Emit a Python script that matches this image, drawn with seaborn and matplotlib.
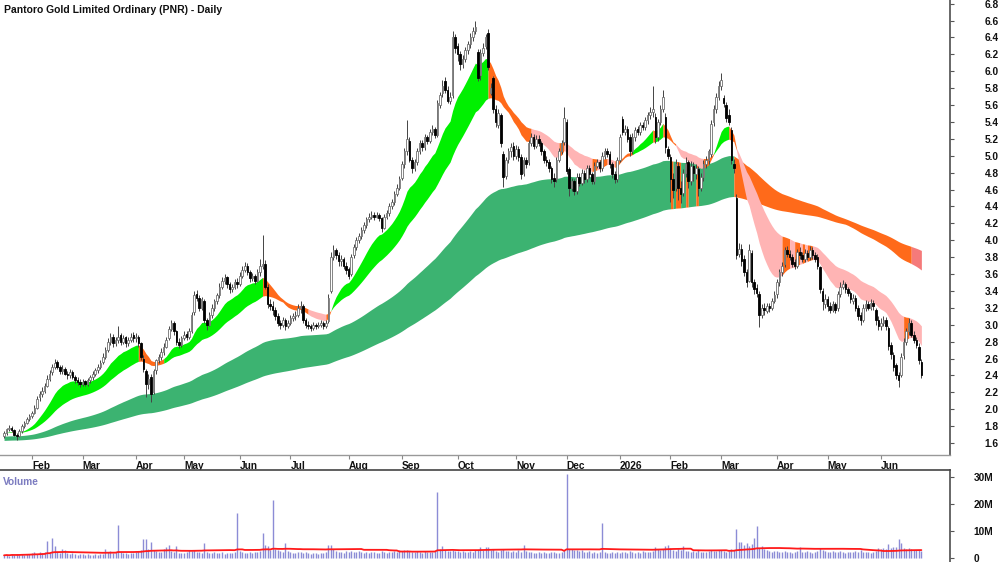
import numpy as np
import pandas as pd
import matplotlib
matplotlib.use("Agg")
import matplotlib.pyplot as plt
import matplotlib.transforms as mtransforms
import seaborn as sns

# ---------------- data ----------------
title = "Pantoro Gold Limited Ordinary (PNR) - Daily"
first_day = "2025-01-16"
asx_holidays = ["2025-01-27", "2025-04-18", "2025-04-21", "2025-04-25", "2025-06-09",
                "2025-12-25", "2025-12-26", "2026-01-01", "2026-01-26", "2026-04-03",
                "2026-04-06", "2026-06-08"]

# one line per month: Jan-25 ... Jun-26
close_px = [
    1.72, 1.76, 1.78, 1.75, 1.70, 1.68, 1.74, 1.80, 1.84, 1.88, 1.92,
    1.95, 2.02, 2.12, 2.18, 2.22, 2.28, 2.36, 2.42, 2.50, 2.55, 2.50, 2.45, 2.48, 2.42, 2.40, 2.44, 2.38, 2.34, 2.32, 2.30,
    2.32, 2.30, 2.34, 2.38, 2.42, 2.46, 2.50, 2.55, 2.62, 2.70, 2.80, 2.85, 2.78, 2.82, 2.86, 2.80, 2.84, 2.78, 2.82, 2.86, 2.84,
    2.86, 2.78, 2.62, 2.48, 2.30, 2.36, 2.18, 2.45, 2.58, 2.62, 2.68, 2.74, 2.82, 2.95, 3.02, 2.92, 2.80, 2.76, 2.84,
    2.88, 2.86, 2.92, 3.12, 3.35, 3.32, 3.20, 3.30, 3.05, 3.00, 3.12, 3.20, 3.28, 3.35, 3.45, 3.52, 3.55, 3.48, 3.42, 3.45, 3.50, 3.48,
    3.58, 3.65, 3.70, 3.62, 3.55, 3.58, 3.52, 3.62, 3.70, 3.72, 3.45, 3.25, 3.22, 3.18, 3.10, 3.02, 3.00, 3.05, 2.98, 3.02,
    3.08, 3.10, 3.12, 3.20, 3.22, 3.05, 3.00, 2.98, 2.96, 3.00, 2.98, 3.00, 3.02, 2.98, 3.02, 3.32, 3.80, 3.88, 3.82, 3.75, 3.78, 3.70, 3.65,
    3.58, 3.80, 3.92, 4.00, 4.05, 4.12, 4.18, 4.25, 4.28, 4.30, 4.28, 4.30, 4.26, 4.15, 4.28, 4.32, 4.40, 4.45, 4.55, 4.62, 4.72,
    4.90, 5.05, 5.20, 4.95, 4.85, 4.92, 5.05, 5.15, 5.10, 5.22, 5.18, 5.28, 5.32, 5.25, 5.62, 5.72, 5.82, 5.78, 5.65, 5.70, 6.40, 6.28,
    6.20, 6.08, 6.15, 6.25, 6.32, 6.40, 6.48, 6.52, 5.92, 6.22, 6.28, 6.40, 6.05, 5.80, 5.55, 5.40, 5.50, 5.15, 4.75, 4.95, 5.05, 5.10, 5.00,
    5.08, 4.98, 4.78, 4.95, 4.90, 5.15, 5.22, 5.12, 5.20, 5.15, 5.05, 4.95, 4.92, 4.85, 4.72, 4.70, 4.95, 5.05, 5.15, 5.45,
    4.82, 4.62, 4.70, 4.58, 4.75, 4.68, 4.80, 4.72, 4.85, 4.78, 4.70, 4.88, 4.92, 4.85, 5.00, 5.05, 5.02, 4.90, 4.78, 4.72, 4.95,
    5.22, 5.28, 5.32, 5.20, 5.05, 5.22, 5.30, 5.28, 5.36, 5.34, 5.42, 5.48, 5.52, 5.55, 5.22, 5.40, 5.55, 5.70, 5.10, 5.00,
    4.72, 4.60, 4.90, 4.62, 4.55, 4.80, 4.90, 4.70, 4.88, 4.80, 4.85, 4.62, 4.75, 4.90, 4.95, 5.05, 5.38, 5.55, 5.70, 5.82,
    5.90, 5.62, 5.45, 5.40, 4.95, 4.85, 3.82, 3.90, 3.75, 3.62, 3.50, 3.88, 3.50, 3.42, 3.38, 3.12, 3.20, 3.18, 3.22, 3.20, 3.28, 3.35,
    3.50, 3.62, 3.70, 3.88, 3.84, 3.80, 3.72, 3.70, 3.86, 3.82, 3.78, 3.85, 3.80, 3.88, 3.82, 3.78, 3.70, 3.42, 3.28, 3.30,
    3.22, 3.18, 3.24, 3.18, 3.36, 3.45, 3.48, 3.42, 3.38, 3.30, 3.32, 3.20, 3.10, 3.05, 3.20, 3.24, 3.20, 3.26, 3.22, 3.05, 2.98,
    3.02, 3.05, 2.98, 2.75, 2.65, 2.50, 2.40, 2.35, 2.62, 2.80, 2.92, 3.02, 2.88, 2.82, 2.76, 2.58, 2.40,
]
open_px = [
    1.68, 1.72, 1.76, 1.78, 1.75, 1.70, 1.68, 1.74, 1.80, 1.84, 1.88,
    1.92, 1.96, 2.02, 2.14, 2.18, 2.22, 2.28, 2.36, 2.44, 2.50, 2.56, 2.50, 2.45, 2.48, 2.42, 2.40, 2.44, 2.38, 2.34, 2.32,
    2.30, 2.33, 2.30, 2.34, 2.38, 2.42, 2.46, 2.50, 2.56, 2.62, 2.70, 2.80, 2.86, 2.78, 2.82, 2.88, 2.80, 2.85, 2.78, 2.82, 2.88,
    2.84, 2.86, 2.78, 2.60, 2.45, 2.30, 2.38, 2.20, 2.46, 2.58, 2.62, 2.68, 2.74, 2.84, 2.95, 3.02, 2.92, 2.80, 2.76,
    2.84, 2.89, 2.86, 2.93, 3.15, 3.36, 3.32, 3.20, 3.28, 3.05, 3.00, 3.12, 3.20, 3.28, 3.35, 3.45, 3.52, 3.56, 3.48, 3.42, 3.45, 3.51,
    3.48, 3.58, 3.65, 3.70, 3.62, 3.55, 3.58, 3.52, 3.62, 3.70, 3.72, 3.45, 3.25, 3.22, 3.18, 3.10, 3.02, 3.00, 3.05, 2.98,
    3.02, 3.08, 3.10, 3.12, 3.20, 3.22, 3.05, 3.00, 2.98, 2.96, 3.00, 2.98, 3.00, 3.02, 2.98, 3.04, 3.40, 3.80, 3.88, 3.82, 3.75, 3.78, 3.70,
    3.66, 3.60, 3.82, 3.92, 4.00, 4.05, 4.12, 4.18, 4.25, 4.28, 4.30, 4.28, 4.30, 4.26, 4.15, 4.28, 4.32, 4.40, 4.45, 4.55, 4.62,
    4.74, 4.90, 5.05, 5.18, 4.95, 4.85, 4.92, 5.05, 5.15, 5.10, 5.22, 5.18, 5.28, 5.32, 5.25, 5.60, 5.74, 5.88, 5.78, 5.65, 5.72, 6.40,
    6.30, 6.20, 6.08, 6.15, 6.25, 6.32, 6.40, 6.48, 6.23, 5.95, 6.22, 6.30, 6.45, 5.74, 5.92, 5.55, 5.36, 5.48, 5.02, 4.76, 4.96, 5.05, 5.12,
    5.00, 5.08, 4.98, 4.80, 4.95, 4.92, 5.15, 5.22, 5.12, 5.20, 5.15, 5.05, 4.95, 4.92, 4.85, 4.74, 4.72, 4.95, 5.05, 5.16,
    5.40, 4.84, 4.62, 4.70, 4.58, 4.75, 4.68, 4.80, 4.72, 4.85, 4.78, 4.70, 4.88, 4.92, 4.85, 5.00, 5.05, 5.02, 4.90, 4.78, 4.72,
    4.95, 5.44, 5.28, 5.32, 5.22, 5.05, 5.22, 5.32, 5.28, 5.36, 5.34, 5.42, 5.48, 5.52, 5.46, 5.22, 5.40, 5.55, 5.46, 5.08,
    4.98, 4.72, 4.62, 4.88, 4.62, 4.56, 4.80, 4.92, 4.70, 4.88, 4.78, 4.84, 4.62, 4.75, 4.90, 4.95, 5.02, 5.40, 5.55, 5.70,
    5.82, 5.68, 5.60, 5.48, 5.30, 4.90, 4.50, 3.84, 3.90, 3.78, 3.62, 3.52, 3.85, 3.50, 3.44, 3.36, 3.12, 3.20, 3.16, 3.22, 3.20, 3.28,
    3.36, 3.50, 3.62, 3.72, 3.88, 3.84, 3.80, 3.74, 3.70, 3.86, 3.82, 3.78, 3.85, 3.80, 3.88, 3.82, 3.80, 3.68, 3.40, 3.24,
    3.30, 3.22, 3.18, 3.24, 3.20, 3.36, 3.45, 3.48, 3.42, 3.38, 3.28, 3.32, 3.20, 3.12, 3.06, 3.20, 3.24, 3.20, 3.26, 3.18, 3.05,
    2.98, 3.02, 3.06, 2.96, 2.76, 2.64, 2.52, 2.40, 2.40, 2.64, 2.80, 2.92, 3.02, 2.88, 2.82, 2.74, 2.56,
]
high_px = [
    1.74, 1.78, 1.81, 1.80, 1.77, 1.72, 1.76, 1.82, 1.86, 1.91, 1.94,
    1.98, 2.05, 2.16, 2.22, 2.26, 2.31, 2.40, 2.46, 2.54, 2.60, 2.58, 2.52, 2.52, 2.50, 2.45, 2.48, 2.46, 2.40, 2.38, 2.36,
    2.36, 2.35, 2.37, 2.41, 2.45, 2.49, 2.54, 2.58, 2.66, 2.74, 2.84, 2.90, 2.89, 2.86, 2.98, 2.90, 2.88, 2.87, 2.85, 2.90, 2.91,
    2.90, 2.88, 2.80, 2.64, 2.48, 2.42, 2.42, 2.48, 2.60, 2.65, 2.72, 2.78, 2.86, 2.98, 3.06, 3.04, 2.94, 2.84, 2.87,
    2.92, 2.92, 2.96, 3.15, 3.40, 3.41, 3.35, 3.33, 3.30, 3.08, 3.15, 3.24, 3.31, 3.38, 3.49, 3.56, 3.60, 3.58, 3.50, 3.48, 3.54, 3.55,
    3.62, 3.69, 3.74, 3.73, 3.65, 3.61, 3.60, 3.66, 3.78, 4.06, 3.76, 3.48, 3.30, 3.28, 3.21, 3.14, 3.06, 3.09, 3.08, 3.05,
    3.12, 3.14, 3.16, 3.24, 3.28, 3.24, 3.08, 3.04, 3.01, 3.03, 3.02, 3.03, 3.05, 3.04, 3.05, 3.36, 3.86, 3.94, 3.91, 3.86, 3.82, 3.80, 3.74,
    3.68, 3.84, 3.96, 4.04, 4.09, 4.16, 4.22, 4.28, 4.32, 4.34, 4.33, 4.33, 4.32, 4.28, 4.31, 4.36, 4.44, 4.49, 4.58, 4.66, 4.76,
    4.94, 5.09, 5.42, 5.22, 4.99, 4.96, 5.09, 5.19, 5.19, 5.26, 5.25, 5.32, 5.36, 5.34, 5.66, 5.76, 5.90, 5.93, 5.82, 5.76, 6.48, 6.44,
    6.34, 6.24, 6.19, 6.29, 6.36, 6.45, 6.52, 6.60, 6.26, 6.26, 6.33, 6.44, 6.50, 5.86, 5.94, 5.60, 5.55, 5.50, 5.05, 4.99, 5.09, 5.15, 5.16,
    5.13, 5.12, 5.02, 4.99, 4.99, 5.19, 5.27, 5.26, 5.24, 5.24, 5.18, 5.08, 5.00, 4.96, 4.88, 4.79, 4.99, 5.09, 5.19, 5.58,
    5.44, 4.87, 4.74, 4.73, 4.79, 4.79, 4.84, 4.83, 4.89, 4.89, 4.81, 4.92, 4.96, 4.95, 5.04, 5.09, 5.09, 5.05, 4.93, 4.82, 4.99,
    5.26, 5.47, 5.36, 5.35, 5.26, 5.27, 5.34, 5.35, 5.40, 5.40, 5.46, 5.52, 5.58, 5.82, 5.50, 5.44, 5.60, 5.78, 5.50, 5.12,
    5.02, 4.80, 4.96, 4.92, 4.70, 4.84, 4.98, 4.95, 4.94, 4.93, 4.90, 4.88, 4.80, 4.95, 5.00, 5.08, 5.42, 5.60, 5.74, 5.88,
    5.98, 5.72, 5.64, 5.55, 5.34, 4.96, 4.55, 3.97, 3.95, 3.82, 3.66, 3.95, 3.88, 3.54, 3.48, 3.40, 3.24, 3.26, 3.26, 3.26, 3.32, 3.40,
    3.54, 3.66, 3.74, 3.92, 3.93, 3.88, 3.84, 3.78, 3.90, 3.92, 3.86, 3.90, 3.89, 3.93, 3.92, 3.86, 3.84, 3.70, 3.44, 3.36,
    3.34, 3.27, 3.28, 3.27, 3.40, 3.50, 3.53, 3.50, 3.45, 3.40, 3.36, 3.35, 3.23, 3.15, 3.24, 3.29, 3.28, 3.30, 3.29, 3.20, 3.10,
    3.08, 3.10, 3.09, 2.98, 2.80, 2.68, 2.55, 2.44, 2.66, 2.84, 2.96, 3.08, 3.05, 2.92, 2.86, 2.78, 2.60,
]
low_px = [
    1.66, 1.70, 1.74, 1.73, 1.68, 1.64, 1.67, 1.72, 1.78, 1.82, 1.86,
    1.90, 1.94, 2.00, 2.10, 2.15, 2.19, 2.26, 2.33, 2.40, 2.47, 2.48, 2.42, 2.42, 2.40, 2.36, 2.37, 2.36, 2.31, 2.29, 2.26,
    2.27, 2.27, 2.28, 2.31, 2.35, 2.39, 2.43, 2.47, 2.53, 2.60, 2.68, 2.76, 2.74, 2.75, 2.78, 2.76, 2.77, 2.74, 2.75, 2.79, 2.80,
    2.80, 2.74, 2.58, 2.44, 2.14, 2.24, 2.08, 2.18, 2.42, 2.55, 2.58, 2.64, 2.72, 2.82, 2.92, 2.88, 2.76, 2.72, 2.74,
    2.82, 2.82, 2.83, 2.90, 3.12, 3.28, 3.16, 3.17, 3.02, 2.94, 2.98, 3.08, 3.16, 3.24, 3.32, 3.42, 3.48, 3.44, 3.38, 3.39, 3.42, 3.44,
    3.46, 3.55, 3.62, 3.59, 3.51, 3.52, 3.48, 3.50, 3.58, 3.66, 3.42, 3.20, 3.17, 3.12, 3.05, 2.98, 2.95, 2.97, 2.94, 2.96,
    3.00, 3.04, 3.06, 3.09, 3.14, 3.02, 2.96, 2.95, 2.93, 2.94, 2.95, 2.96, 2.97, 2.95, 2.96, 3.02, 3.38, 3.76, 3.78, 3.70, 3.70, 3.66, 3.60,
    3.54, 3.58, 3.79, 3.89, 3.97, 4.02, 4.09, 4.15, 4.22, 4.25, 4.24, 4.26, 4.23, 4.10, 4.13, 4.25, 4.29, 4.37, 4.42, 4.52, 4.59,
    4.71, 4.86, 5.01, 4.92, 4.80, 4.82, 4.89, 5.02, 5.06, 5.07, 5.14, 5.15, 5.24, 5.21, 5.22, 5.56, 5.70, 5.74, 5.62, 5.61, 5.68, 6.22,
    6.12, 6.02, 6.04, 6.11, 6.20, 6.28, 6.36, 6.44, 5.88, 5.90, 6.18, 6.26, 6.02, 5.72, 5.50, 5.34, 5.33, 5.10, 4.63, 4.72, 4.91, 4.99, 4.95,
    4.96, 4.94, 4.72, 4.76, 4.86, 4.89, 5.11, 5.08, 5.09, 5.11, 5.01, 4.91, 4.88, 4.81, 4.68, 4.63, 4.69, 4.92, 5.02, 5.13,
    4.78, 4.52, 4.58, 4.54, 4.55, 4.64, 4.65, 4.68, 4.69, 4.74, 4.66, 4.67, 4.85, 4.81, 4.82, 4.96, 4.98, 4.86, 4.74, 4.68, 4.69,
    4.93, 5.24, 5.25, 5.16, 5.00, 5.02, 5.18, 5.24, 5.25, 5.30, 5.30, 5.38, 5.44, 5.46, 5.15, 5.18, 5.36, 5.52, 5.03, 4.96,
    4.45, 4.50, 4.58, 4.48, 4.44, 4.52, 4.75, 4.62, 4.65, 4.70, 4.72, 4.52, 4.58, 4.70, 4.85, 4.90, 4.98, 5.35, 5.50, 5.66,
    5.78, 5.58, 5.40, 5.36, 4.90, 4.80, 3.78, 3.80, 3.70, 3.58, 3.45, 3.50, 3.45, 3.36, 3.33, 2.97, 3.08, 3.12, 3.14, 3.15, 3.18, 3.26,
    3.32, 3.46, 3.58, 3.68, 3.80, 3.76, 3.68, 3.66, 3.67, 3.78, 3.74, 3.74, 3.76, 3.77, 3.78, 3.74, 3.66, 3.38, 3.18, 3.20,
    3.16, 3.14, 3.15, 3.14, 3.16, 3.33, 3.42, 3.38, 3.34, 3.26, 3.25, 3.16, 3.06, 3.00, 3.03, 3.16, 3.17, 3.17, 3.18, 3.00, 2.94,
    2.94, 2.98, 2.94, 2.70, 2.60, 2.45, 2.36, 2.26, 2.38, 2.60, 2.76, 2.88, 2.85, 2.78, 2.72, 2.54, 2.37,
]
volume_m = [
    1.0, 1.2, 0.9, 1.4, 1.1, 1.3, 1.0, 1.5, 1.2, 1.6, 1.4,
    1.8, 2.1, 1.6, 2.4, 1.9, 2.2, 6.3, 2.0, 7.3, 4.4, 2.3, 1.8, 3.5, 3.0, 1.7, 1.5, 1.9, 1.4, 1.2, 1.6,
    1.3, 1.1, 1.5, 1.2, 1.0, 1.4, 1.1, 1.6, 1.3, 3.3, 2.2, 2.6, 1.9, 2.4, 12.4, 2.1, 1.7, 1.9, 1.5, 2.0, 1.8,
    2.2, 2.6, 3.1, 7.2, 7.2, 3.4, 5.9, 2.8, 2.5, 2.1, 2.4, 3.3, 4.0, 5.0, 2.6, 2.2, 4.3, 2.0, 1.8,
    1.9, 2.3, 2.8, 2.5, 3.0, 2.4, 2.2, 1.9, 5.6, 2.4, 1.8, 2.0, 2.2, 1.7, 1.9, 2.1, 1.6, 1.8, 2.0, 1.7, 2.2, 16.5,
    2.6, 2.3, 2.0, 1.8, 2.2, 1.9, 2.4, 2.1, 2.7, 9.2, 4.7, 4.5, 3.0, 21.5, 3.4, 2.8, 2.5, 2.2, 5.4, 2.6,
    2.3, 2.0, 1.8, 2.4, 2.1, 1.9, 2.2, 1.7, 1.6, 2.0, 1.8, 1.5, 1.9, 1.7, 2.1, 5.0, 5.0, 3.2, 2.6, 2.4, 2.2, 2.0, 2.5,
    2.3, 2.7, 2.4, 2.1, 2.6, 2.2, 2.0, 2.4, 1.9, 2.1, 2.3, 1.8, 2.0, 2.5, 2.2, 1.9, 2.4, 2.1, 2.6, 2.3, 2.8,
    2.6, 2.9, 3.1, 2.7, 2.4, 2.2, 2.6, 2.3, 2.0, 2.5, 2.2, 2.4, 2.1, 2.7, 24.6, 3.2, 4.4, 2.8, 2.5, 2.6, 3.0, 2.7,
    2.5, 2.3, 2.6, 2.2, 2.4, 2.7, 2.3, 2.9, 3.1, 3.9, 3.0, 3.9, 3.9, 2.8, 3.2, 2.6, 2.4, 2.9, 3.3, 2.7, 2.5, 2.3, 2.6,
    2.2, 2.8, 2.4, 5.0, 2.5, 2.1, 2.3, 2.0, 1.8, 2.2, 1.9, 2.1, 1.7, 2.0, 2.3, 2.1, 1.8, 2.0, 2.4, 3.0,
    31.3, 3.2, 3.4, 2.8, 3.0, 2.6, 2.9, 2.4, 2.2, 2.5, 2.0, 2.3, 1.9, 2.1, 13.0, 2.4, 2.0, 1.8, 2.2, 1.9, 2.3,
    2.0, 2.4, 2.1, 1.8, 2.6, 2.2, 1.9, 2.3, 2.0, 2.5, 2.2, 2.1, 2.4, 2.7, 4.2, 3.5, 2.8, 3.4, 4.6, 5.0,
    3.8, 2.9, 2.6, 3.4, 2.8, 4.5, 2.5, 2.7, 2.3, 2.6, 2.2, 2.8, 2.4, 2.1, 2.3, 2.6, 2.9, 2.5, 2.7, 3.0,
    2.8, 2.5, 2.3, 2.6, 3.4, 2.9, 10.8, 6.0, 6.0, 5.0, 5.5, 4.6, 5.2, 7.5, 12.0, 3.6, 4.5, 3.2, 2.8, 2.6, 2.4, 2.7,
    2.5, 2.2, 2.4, 2.7, 2.1, 2.3, 2.0, 2.2, 2.5, 4.2, 2.4, 2.1, 2.6, 2.3, 2.0, 2.2, 2.5, 3.8, 3.0, 2.6,
    2.4, 2.2, 2.6, 2.3, 2.1, 2.5, 2.2, 2.0, 2.4, 2.1, 2.3, 2.6, 2.2, 2.8, 2.4, 2.1, 2.3, 2.0, 2.2, 2.6, 3.6,
    3.4, 3.8, 3.2, 5.2, 3.6, 4.1, 3.9, 7.0, 5.5, 3.8, 3.4, 3.6, 3.2, 3.0, 2.9, 2.8, 2.6,
]

# moving-average bands (EMA periods) and their starting levels at the left edge
short_spans = [15, 18, 22, 26, 30, 36]
long_spans = [110, 130, 150, 170, 190, 215]
short_start = 1.72
long_start = [1.68, 1.67, 1.66, 1.65, 1.64, 1.63]
volume_ma_window = 50

# ---------------- prep ----------------
n = min(len(close_px), len(open_px), len(high_px), len(low_px), len(volume_m))
o = np.array(open_px[:n])
h = np.array(high_px[:n])
l = np.array(low_px[:n])
c = np.array(close_px[:n])
vol = np.array(volume_m[:n])
x = np.arange(n)

bday = pd.offsets.CustomBusinessDay(holidays=asx_holidays)
dates = pd.date_range(first_day, periods=n, freq=bday)


def ema(values, span, seed):
    s = pd.Series(np.concatenate([[seed], values]))
    return s.ewm(span=span, adjust=False).mean().to_numpy()[1:]


def band(spans, seeds):
    lines = np.vstack([ema(c, sp, sd) for sp, sd in zip(spans, seeds)])
    bull = np.all(lines[:-1] > lines[1:], axis=0)
    bear = np.all(lines[:-1] < lines[1:], axis=0)
    mid = lines.mean(axis=0)
    slope = np.diff(mid, prepend=mid[0])
    state = np.where(bull & (slope >= 0), 1, np.where(bear & (slope <= 0), -1, 0))
    return lines.min(axis=0), lines.max(axis=0), state


def fill_band(ax, lo, hi, state, colours, z):
    start = 0
    for i in range(1, n + 1):
        if i == n or state[i] != state[start]:
            s = max(start - 1, 0)
            ax.fill_between(x[s:i], lo[s:i], hi[s:i], color=colours[state[start]],
                            lw=0, zorder=z)
            start = i


short_lo, short_hi, short_state = band(short_spans, [short_start] * len(short_spans))
long_lo, long_hi, long_state = band(long_spans, long_start)
vol_ma = pd.Series(vol).rolling(volume_ma_window, min_periods=1).mean()

# ---------------- plot ----------------
sns.set_theme(style="white")
plt.rcParams["font.family"] = ["Liberation Sans", "DejaVu Sans"]
plt.rcParams["font.weight"] = "bold"

fig = plt.figure(figsize=(10, 5.62), dpi=100)
ax = fig.add_axes([0, 1 - 455 / 562, 0.95, 455 / 562])
axv = fig.add_axes([0, 0, 0.95, 92 / 562])

orange = "#ff6a1a"
fill_band(ax, long_lo, long_hi, long_state, {1: "#3cb371", 0: orange, -1: "#f57a7a"}, 1)
fill_band(ax, short_lo, short_hi, short_state, {1: "#00f000", 0: orange, -1: "#ffb4b4"}, 2)

up = c >= o
body = np.maximum(np.abs(c - o), 0.006)
ax.vlines(x, l, h, color="#444444", lw=0.7, zorder=3)
ax.bar(x[up], body[up], bottom=o[up], width=0.62, color="white",
       edgecolor="#707070", lw=0.6, zorder=4)
ax.bar(x[~up], body[~up], bottom=c[~up], width=0.62, color="black",
       edgecolor="black", lw=0.6, zorder=4)

ax.set_xlim(-1.6, 373.3)
ax.set_ylim(1.458, 6.843)
ax.yaxis.tick_right()
ax.set_yticks(np.round(np.arange(1.6, 6.81, 0.2), 1))
ax.set_yticklabels([f"{v:.1f}" for v in np.arange(1.6, 6.81, 0.2)])

month_start = [i for i in range(1, n) if dates[i].month != dates[i - 1].month]
month_lab = [str(dates[i].year) if dates[i].month == 1 else dates[i].strftime("%b")
             for i in month_start]
ax.set_xticks(month_start)
ax.set_xticklabels(month_lab, ha="left")
shift = mtransforms.ScaledTranslation(2 / 100, 0, fig.dpi_scale_trans)
for lab in ax.get_xticklabels():
    lab.set_transform(lab.get_transform() + shift)

ax.tick_params(axis="y", right=True, length=3, width=0.8, color="#555555",
               pad=22, labelsize=7.3, labelcolor="#111111")
ax.tick_params(axis="x", bottom=True, length=3, width=0.8, color="#888888",
               pad=1, labelsize=7.3, labelcolor="#111111")
for side in ["left", "top"]:
    ax.spines[side].set_visible(False)
ax.spines["right"].set_color("#555555")
ax.spines["bottom"].set_color("#999999")
ax.spines["bottom"].set_linewidth(1.0)
ax.text(0.004, 0.988, title, transform=ax.transAxes, ha="left", va="top",
        fontsize=7.5, fontweight="bold", color="#111111")

# volume panel
axv.vlines(x, 0, vol, color="#8c8cd6", lw=1.0, zorder=2)
sns.lineplot(x=x, y=vol_ma, ax=axv, color="#ff1a1a", lw=1.3, zorder=3)
axv.set_xlim(ax.get_xlim())
axv.set_ylim(-1.48, 32.6)
axv.yaxis.tick_right()
axv.set_yticks([0, 10, 20, 30])
axv.set_yticklabels(["0", "10M", "20M", "30M"])
axv.set_xticks([])
axv.tick_params(axis="y", right=True, length=3, width=0.8, color="#555555",
                pad=14, labelsize=7.3, labelcolor="#111111")
for side in ["left", "bottom"]:
    axv.spines[side].set_visible(False)
axv.spines["right"].set_color("#555555")
axv.spines["top"].set_color("#444444")
axv.spines["top"].set_linewidth(1.2)
axv.set_ylabel("")
axv.text(0.003, 0.92, "Volume", transform=axv.transAxes, ha="left", va="top",
         fontsize=7.3, fontweight="bold", color="#7b7bc0")

fig.savefig("out.png", dpi=100)
